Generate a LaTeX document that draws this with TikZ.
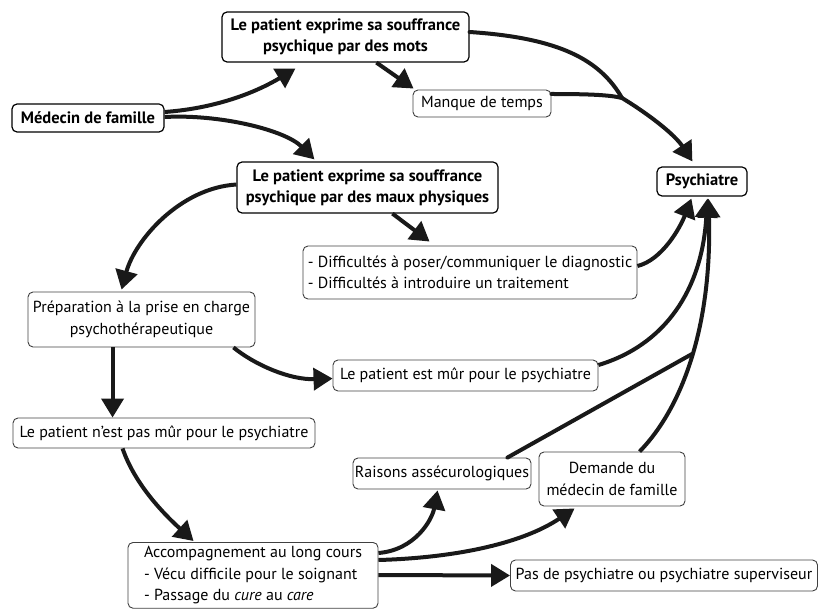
\documentclass[tikz,border=0pt]{standalone}
\usepackage{fontspec}
\setmainfont{PT Sans}
\usetikzlibrary{arrows.meta,calc}
\begin{document}
\begin{tikzpicture}[x=1pt,y=-1pt,
  box/.style={draw=black!75, line width=0.9pt, rounded corners=5pt, inner sep=0pt, align=center, font=\fontsize{16}{21.5}\selectfont},
  bbox/.style={box, draw=black, line width=1.2pt, font=\fontsize{16.5}{21}\selectfont\bfseries},
  conn/.style={line width=4pt, draw=black!90, -{Triangle[length=19pt,width=22pt]}},
  link/.style={line width=4pt, draw=black!90, line cap=round}]
\useasboundingbox (0,0) rectangle (818,612);
\node[bbox, minimum width=247, minimum height=50] (M1) at (345.5,37) {Le patient exprime sa souffrance\\psychique par des mots};
\node[bbox, minimum width=152, minimum height=28] (MF) at (88,118) {Médecin de famille};
\node[box, minimum width=138, minimum height=27] (Man) at (482,103.5) {Manque de temps};
\node[bbox, minimum width=261, minimum height=51] (M2) at (367.5,187.5) {Le patient exprime sa souffrance\\psychique par des maux physiques};
\node[bbox, minimum width=90, minimum height=29] (Psy) at (702,181.5) {Psychiatre};
\node[box, align=left, minimum width=334, minimum height=53] (Dif) at (470,272.5) {- Difficultés à poser/communiquer le diagnostic\\- Difficultés à introduire un traitement};
\node[box, minimum width=227, minimum height=55] (Pre) at (141.5,319.5) {Préparation à la prise en charge\\psychothérapeutique};
\node[box, minimum width=265, minimum height=31] (Mur) at (465.5,375.5) {Le patient est mûr pour le psychiatre};
\node[box, minimum width=302, minimum height=30] (Not) at (164,433) {Le patient n’est pas mûr pour le psychiatre};
\node[box, minimum width=178, minimum height=31] (Rai) at (442,473.5) {Raisons assécurologiques};
\node[box, minimum width=146, minimum height=54] (Dem) at (612,479) {Demande du\\médecin de famille};
\node[box, align=left, anchor=north, minimum width=250, inner ysep=4pt] (Acc) at (253,542) {Accompagnement au long cours\\- Vécu difficile pour le soignant\\- Passage du \textit{cure} au \textit{care}};
\node[box, minimum width=307, minimum height=31] (Pas) at (664,575.5) {Pas de psychiatre ou psychiatre superviseur};
\coordinate (J1) at (622,98);
\coordinate (J2) at (692,354);
\draw[conn] ($(MF.east)+(0,-6)$) .. controls (220,108) and (260,90) .. ($(M1.south west)+(74,6)$);
\draw[conn] ($(MF.east)+(0,-1)$) .. controls (220,114) and (285,130) .. ($(M2.north west)+(78,-2)$);
\draw[conn] ($(M1.south west)+(155,0)$) -- ($(Man.north west)+(1,-1)$);
\draw[link] ($(M1.east)+(0,-5)$) .. controls (560,38) and (600,60) .. (J1);
\draw[link] ($(Man.east)+(0,-9.5)$) .. controls (590,94) and (610,95) .. (J1);
\draw[conn] (J1) .. controls (650,115) and (675,135) .. ($(Psy.north west)+(36,-5)$);
\draw[conn] ($(M2.west)+(0,-3)$) .. controls (180,188) and (135,240) .. ($(Pre.north west)+(94,-2)$);
\draw[conn] ($(M2.south west)+(156,0)$) -- ($(Dif.north west)+(127,-4)$);
\draw[conn] ($(Dif.east)+(0,-6.5)$) .. controls (662,260) and (680,228) .. ($(Psy.south west)+(35,2)$);
\draw[conn] ($(Pre.south east)+(-22,0)$) .. controls (255,365) and (290,380) .. ($(Mur.west)+(0,3)$);
\draw[conn] ($(Mur.east)+(0,-10.5)$) .. controls (665,345) and (702,290) .. ($(Psy.south west)+(51,2)$);
\draw[conn] ($(Dem.north west)+(101,0)$) .. controls (685,405) and (712,320) .. ($(Psy.south west)+(52,2)$);
\draw[link] ($(Rai.north east)+(-24,0)$) -- (J2);
\draw[conn] ($(Pre.south west)+(85,0)$) -- ($(Not.north west)+(100,0)$);
\draw[conn] ($(Not.south west)+(110,0)$) .. controls (135,485) and (165,515) .. ($(Acc.north west)+(66,-1)$);
\draw[conn] ($(Acc.north east)+(0,11)$) .. controls (415,550) and (432,520) .. ($(Rai.south west)+(85,1)$);
\draw[conn] ($(Acc.north east)+(0,18)$) .. controls (450,558) and (520,545) .. ($(Dem.south west)+(36,2)$);
\draw[conn] ($(Acc.north east)+(0,33)$) -- (Pas.west);
\end{tikzpicture}
\end{document}
